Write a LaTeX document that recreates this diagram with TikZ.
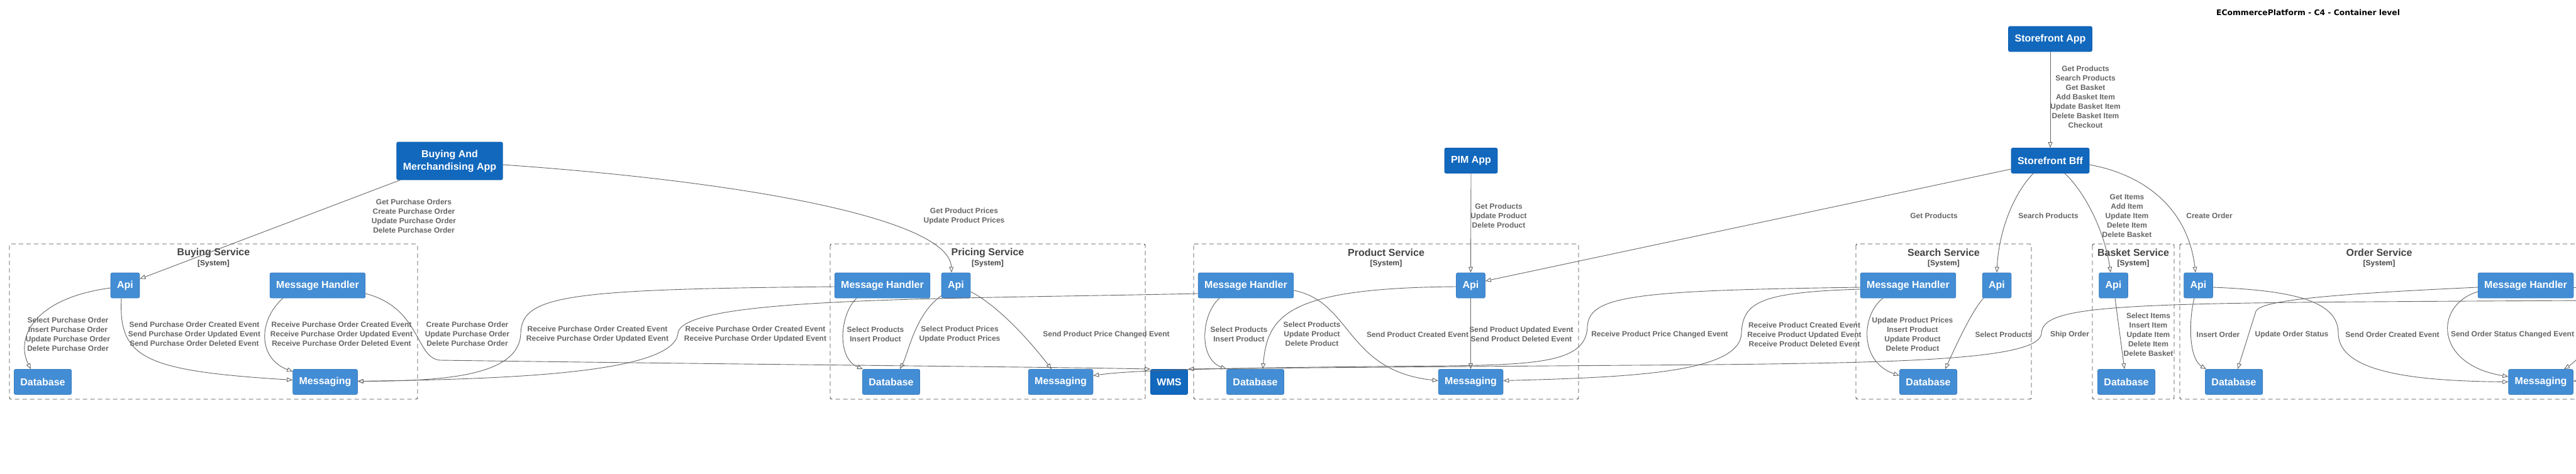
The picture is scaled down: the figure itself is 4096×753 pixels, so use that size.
\documentclass[tikz,border=0pt]{standalone}
\usepackage{fontspec}
\setmainfont{Liberation Sans}
\newfontfamily\headfont{DejaVu Sans}
\usepackage{tikz}
\usetikzlibrary{arrows.meta,calc}
\definecolor{SysBlue}{HTML}{1168BD}
\definecolor{SysEdge}{HTML}{0F5FAE}
\definecolor{ContBlue}{HTML}{438DD5}
\definecolor{ContEdge}{HTML}{3C7FC0}
\definecolor{RelGray}{HTML}{666666}
\definecolor{BoundGray}{HTML}{444444}

\begin{document}
\begin{tikzpicture}[x=1pt,y=-1pt,
  cont/.style={rectangle,rounded corners=2.5pt,fill=ContBlue,draw=ContEdge,line width=0.8pt,text=white,
    font=\bfseries\fontsize{16}{20}\selectfont,inner xsep=10pt,inner ysep=0pt,minimum height=40pt,align=center},
  sys/.style={cont,fill=SysBlue,draw=SysEdge},
  bound/.style={draw=BoundGray,dash pattern=on 7pt off 5pt,rounded corners=2.5pt,line width=0.9pt},
  bname/.style={text=BoundGray,font=\bfseries\fontsize{16}{19}\selectfont,inner sep=0pt},
  btype/.style={text=BoundGray,font=\bfseries\fontsize{12}{14}\selectfont,inner sep=0pt},
  lbl/.style={text=RelGray,font=\bfseries\fontsize{12}{15}\selectfont,align=center,inner sep=0pt},
  link/.style={draw=RelGray,line width=0.9pt},
  rel/.style={link,-{Triangle[open,length=9pt,width=7pt]}}]
  \fill[white] (0,0) rectangle (4096,753);
  \useasboundingbox (0,0) rectangle (4096,753);

  \node[anchor=west,inner sep=0pt,font=\headfont\bfseries\fontsize{12.3}{15}\selectfont] (title) at (3524,20) {ECommercePlatform - C4 - Container level};

  \draw[bound] (15,388) rectangle (664,635);
  \node[bname] (buyName) at (339.5,402) {Buying Service};
  \node[btype] (buySys) at (339.5,419) {[System]};
  \draw[bound] (1320,388) rectangle (1821,635);
  \node[bname] (priceName) at (1570.5,402) {Pricing Service};
  \node[btype] (priceSys) at (1570.5,419) {[System]};
  \draw[bound] (1898,388) rectangle (2510,635);
  \node[bname] (prodName) at (2204,402) {Product Service};
  \node[btype] (prodSys) at (2204,419) {[System]};
  \draw[bound] (2951,388) rectangle (3230,635);
  \node[bname] (searchName) at (3090.5,402) {Search Service};
  \node[btype] (searchSys) at (3090.5,419) {[System]};
  \draw[bound] (3327,388) rectangle (3457,635);
  \node[bname] (basketName) at (3392,402) {Basket Service};
  \node[btype] (basketSys) at (3392,419) {[System]};
  \draw[bound] (3466,388) rectangle (4100,635);
  \node[bname] (orderName) at (3783,402) {Order Service};
  \node[btype] (orderSys) at (3783,419) {[System]};

  \node[sys,minimum height=60pt] (bmApp) at (715,256) {Buying And\\Merchandising App};
  \node[sys] (pimApp) at (2339,255.5) {PIM App};
  \node[sys] (sfApp) at (3260,62) {Storefront App};
  \node[sys] (sfBff) at (3260,255.5) {Storefront Bff};
  \node[sys] (wms) at (1859,607.5) {WMS};

  \node[cont] (bApi) at (199,454) {Api};
  \node[cont] (bMh) at (505,454) {Message Handler};
  \node[cont] (bDb) at (68,607.5) {Database};
  \node[cont] (bMsg) at (517,607.5) {Messaging};
  \node[cont] (pMh) at (1403,454) {Message Handler};
  \node[cont] (pApi) at (1520,454) {Api};
  \node[cont] (pDb) at (1417,607.5) {Database};
  \node[cont] (pMsg) at (1686.5,607.5) {Messaging};
  \node[cont] (prMh) at (1981,454) {Message Handler};
  \node[cont] (prApi) at (2338.5,454) {Api};
  \node[cont] (prDb) at (1996,607.5) {Database};
  \node[cont] (prMsg) at (2338.5,607.5) {Messaging};
  \node[cont] (sMh) at (3034,454) {Message Handler};
  \node[cont] (sApi) at (3175,454) {Api};
  \node[cont] (sDb) at (3066,607.5) {Database};
  \node[cont] (kApi) at (3360.5,454) {Api};
  \node[cont] (kDb) at (3381,607.5) {Database};
  \node[cont] (oApi) at (3495.5,454) {Api};
  \node[cont] (oDb) at (3552,607.5) {Database};
  \node[cont] (oMh) at (4016,454) {Message Handler};
  \node[cont] (oMsg) at (4040,607.5) {Messaging};

  \coordinate (shipSrc) at (4110,478);
  \coordinate (msgSrc) at (4110,555);
  \coordinate (mhOut) at (4110,457);
  \coordinate (msgOut) at (4110,606);

  \draw[rel] ($(bmApp.south west)+(6,0)$) -- ($(bApi.north east)+(0,10)$);
  \draw[rel] ($(bmApp.east)+(0,6)$) .. controls (1200,290) and (1510,350) .. ($(pApi.north)+(-7,0)$);
  \draw[rel] ($(bApi.west)+(0,4)$) .. controls (50,475) and (25,540) .. ($(bDb.north)+(-19,0)$);
  \draw[rel] ($(bApi.south)+(-6,0)$) .. controls (188,570) and (230,590) .. ($(bMsg.west)+(0,-3)$);
  \draw[rel] ($(bMh.south west)+(21,0)$) .. controls (410,510) and (410,570) .. ($(bMsg.north west)+(0,4)$);
  \draw[rel] ($(bMh.east)+(0,13)$) .. controls (670,490) and (660,570) .. (700,573) .. controls (1200,580) and (1700,584) .. (wms.north west);
  \draw[rel] ($(pMh.west)+(0,2)$) .. controls (900,460) and (830,470) .. (828,530) .. controls (826,600) and (700,606) .. ($(bMsg.east)+(0,-1)$);
  \draw[rel] ($(prMh.west)+(0,13)$) .. controls (1500,476) and (1085,472) .. (1078,530) .. controls (1072,595) and (800,603) .. ($(bMsg.east)+(0,-1)$);
  \draw[rel] ($(pMh.south)+(-41,0)$) .. controls (1335,500) and (1330,570) .. ($(pDb.north west)+(1,0)$);
  \draw[rel] ($(pApi.south west)+(0,-4)$) .. controls (1455,500) and (1445,560) .. ($(pDb.north)+(14,0)$);
  \draw[rel] ($(pApi.east)+(0,10)$) .. controls (1575,480) and (1620,520) .. ($(pMsg.north)+(-14.5,0)$);
  \draw[rel] ($(sMh.west)+(0,3)$) .. controls (2600,462) and (2526,470) .. (2524,520) .. controls (2522,575) and (2450,580) .. (2300,582) .. controls (1900,585) and (1790,590) .. ($(pMsg.east)+(0,-10)$);
  \draw[rel] ($(sMh.west)+(0,6)$) .. controls (2800,465) and (2771,480) .. (2769,530) .. controls (2767,592) and (2600,600) .. ($(prMsg.east)+(0,-2)$);
  \draw[rel] (shipSrc) .. controls (3400,482) and (3248,480) .. (3246,530) .. controls (3244,575) and (3000,578) .. (2600,581) .. controls (2200,584) and (1950,586) .. (wms.north east);
  \draw[rel] ($(prMh.south)+(-42,0)$) .. controls (1910,500) and (1905,570) .. (prDb.north west);
  \draw[rel] ($(prApi.west)+(0,2)$) .. controls (2050,458) and (2015,500) .. ($(prDb.north)+(12,0)$);
  \draw[rel] ($(prMh.east)+(0,8)$) .. controls (2150,480) and (2140,590) .. ($(prMsg.west)+(0,-2)$);
  \draw[rel] (prApi.south) -- (prMsg.north);
  \draw[rel] (pimApp.south) -- (prApi.north);
  \draw[rel] ($(sfBff.west)+(0,13.5)$) -- ($(prApi.east)+(0,-7)$);
  \draw[rel] (sfApp.south) -- (sfBff.north);
  \draw[rel] ($(sfBff.south)+(-27,0)$) .. controls (3200,310) and (3178,370) .. (sApi.north);
  \draw[rel] ($(sfBff.south)+(23,0)$) .. controls (3310,300) and (3345,360) .. ($(kApi.north)+(-4.5,0)$);
  \draw[rel] ($(sfBff.east)+(0,6.5)$) .. controls (3420,280) and (3480,340) .. ($(oApi.north)+(-4.5,0)$);
  \draw[rel] ($(sApi.south west)+(2,0)$) .. controls (3135,495) and (3110,550) .. ($(sDb.north)+(27,0)$);
  \draw[rel] ($(sMh.south)+(-40,0)$) .. controls (2960,500) and (2955,575) .. ($(sDb.west)+(0,-10)$);
  \draw[rel] ($(kApi.south)+(2.5,0)$) -- ($(kDb.north)+(-3,0)$);
  \draw[rel] ($(oApi.south)+(-6.5,0)$) .. controls (3480,510) and (3480,570) .. ($(oDb.north west)+(2,0)$);
  \draw[rel] ($(oMh.west)+(0,3)$) .. controls (3700,468) and (3595,478) .. (3587,495) -- ($(oDb.north)+(6,0)$);
  \draw[rel] ($(oApi.east)+(0,3)$) .. controls (3650,462) and (3718,480) .. (3718,530) .. controls (3718,595) and (3850,606) .. (oMsg.west);
  \draw[rel] ($(oMh.west)+(0,10)$) .. controls (3870,485) and (3870,580) .. ($(oMsg.west)+(0,-8.5)$);
  \draw[rel] (msgSrc) .. controls (4100,572) and (4085,582) .. ($(oMsg.north)+(37,0)$);
  \draw[link] ($(oMh.east)+(0,3)$) -- (mhOut);
  \draw[rel] (msgOut) -- ($(oMsg.east)+(0,-1.5)$);

  \node[lbl] (tBmBuy) at (658,343.5) {Get Purchase Orders\\Create Purchase Order\\Update Purchase Order\\Delete Purchase Order};
  \node[lbl] (tBuyDb) at (108,531.5) {Select Purchase Order\\Insert Purchase Order\\Update Purchase Order\\Delete Purchase Order};
  \node[lbl] (tBuySend) at (309,531) {Send Purchase Order Created Event\\Send Purchase Order Updated Event\\Send Purchase Order Deleted Event};
  \node[lbl] (tBuyRecv) at (543,531) {Receive Purchase Order Created Event\\Receive Purchase Order Updated Event\\Receive Purchase Order Deleted Event};
  \node[lbl] (tBuyWms) at (743,531) {Create Purchase Order\\Update Purchase Order\\Delete Purchase Order};
  \node[lbl] (tPriceRecv) at (950,531.5) {Receive Purchase Order Created Event\\Receive Purchase Order Updated Event};
  \node[lbl] (tProdRecv) at (1201,531.5) {Receive Purchase Order Created Event\\Receive Purchase Order Updated Event};
  \node[lbl] (tBmPrice) at (1533,343.5) {Get Product Prices\\Update Product Prices};
  \node[lbl] (tPriceMhDb) at (1392,531.5) {Select Products\\Insert Product};
  \node[lbl] (tPriceApiDb) at (1526,531.5) {Select Product Prices\\Update Product Prices};
  \node[lbl] (tPriceSend) at (1759,532) {Send Product Price Changed Event};
  \node[lbl] (tPimProd) at (2383,343) {Get Products\\Update Product\\Delete Product};
  \node[lbl] (tProdMhDb) at (1970,531.5) {Select Products\\Insert Product};
  \node[lbl] (tProdApiDb) at (2086,531) {Select Products\\Update Product\\Delete Product};
  \node[lbl] (tProdCreated) at (2254,532) {Send Product Created Event};
  \node[lbl] (tProdSend) at (2419,531.5) {Send Product Updated Event\\Send Product Deleted Event};
  \node[lbl] (tSearchPrice) at (2639,532) {Receive Product Price Changed Event};
  \node[lbl] (tSearchProd) at (2869,532) {Receive Product Created Event\\Receive Product Updated Event\\Receive Product Deleted Event};
  \node[lbl] (tBffProd) at (3075,343) {Get Products};
  \node[lbl] (tSearchMhDb) at (3041,531.5) {Update Product Prices\\Insert Product\\Update Product\\Delete Product};
  \node[lbl] (tSearchApiDb) at (3186,532) {Select Products};
  \node[lbl] (tBffSearch) at (3257,343) {Search Products};
  \node[lbl] (tBffBasket) at (3382,343) {Get Items\\Add Item\\Update Item\\Delete Item\\Delete Basket};
  \node[lbl] (tBffOrder) at (3513,343) {Create Order};
  \node[lbl] (tShip) at (3291,532) {Ship Order};
  \node[lbl] (tBasketDb) at (3416,532) {Select Items\\Insert Item\\Update Item\\Delete Item\\Delete Basket};
  \node[lbl] (tOrderApiDb) at (3527,532) {Insert Order};
  \node[lbl] (tOrderMhDb) at (3644,532) {Update Order Status};
  \node[lbl] (tOrderCreated) at (3804,532) {Send Order Created Event};
  \node[lbl] (tOrderStatus) at (3995,532) {Send Order Status Changed Event};
  \node[lbl] (tAppBff) at (3316,154.5) {Get Products\\Search Products\\Get Basket\\Add Basket Item\\Update Basket Item\\Delete Basket Item\\Checkout};
\end{tikzpicture}
\end{document}
